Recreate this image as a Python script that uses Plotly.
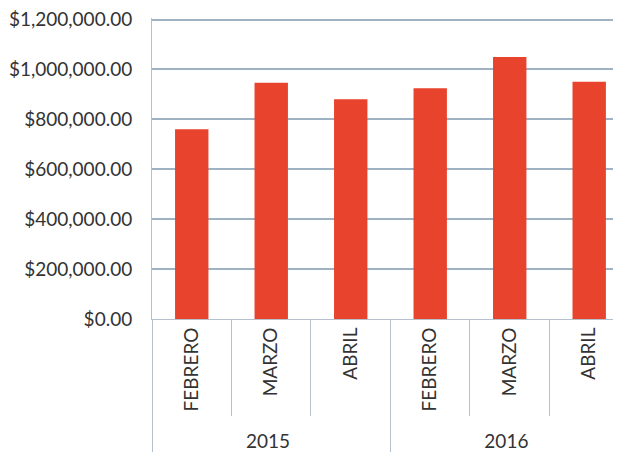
import plotly.graph_objects as go

years = ["2015", "2015", "2015", "2016", "2016", "2016"]
months = ["FEBRERO", "MARZO", "ABRIL", "FEBRERO", "MARZO", "ABRIL"]
values = [760000, 947000, 880000, 925000, 1050000, 951000]
y_ticks = [0, 200000, 400000, 600000, 800000, 1000000, 1200000]
y_labels = ["$0.00", "$200,000.00", "$400,000.00", "$600,000.00",
            "$800,000.00", "$1,000,000.00", "$1,200,000.00"]

fig = go.Figure(go.Bar(x=[years, months], y=values, marker_color="#E8432C",
                       marker_line_width=0))

fig.update_layout(
    width=613, height=445,
    margin=dict(l=144, r=0, t=10, b=134),
    paper_bgcolor="white", plot_bgcolor="white",
    font=dict(family="Lato", size=18, color="#333333"),
    bargap=0.58, showlegend=False,
)
fig.update_xaxes(
    type="multicategory", range=[-0.5, 5.4], automargin=False,
    tickangle=-90, tickson="boundaries", ticks="outside", ticklen=96,
    tickcolor="#b4c0cc", tickwidth=1,
    showdividers=True, dividercolor="#b4c0cc", dividerwidth=1,
    showline=True, linecolor="#b4c0cc", linewidth=1,
    tickfont=dict(size=19),
)
fig.update_yaxes(
    range=[0, 1206000], tickvals=y_ticks, ticktext=y_labels, automargin=False,
    showgrid=True, gridcolor="#9fb2c3", gridwidth=1.5,
    showline=True, linecolor="#b4c0cc", zeroline=False,
    ticks="", ticklabelstandoff=15, tickfont=dict(size=19),
    ticklabeloverflow="allow",
)
fig.write_html("out.html")
